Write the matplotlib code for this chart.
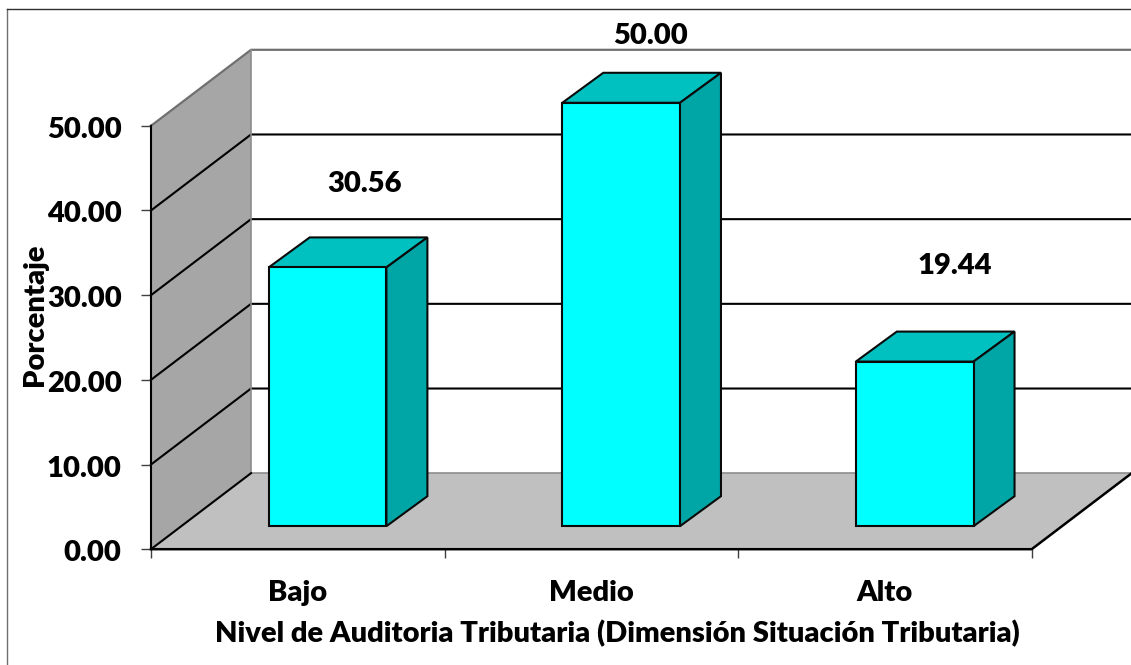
import matplotlib
matplotlib.use("Agg")
import matplotlib.pyplot as plt
from matplotlib.lines import Line2D
from matplotlib.transforms import ScaledTranslation

categorias = ['Bajo', 'Medio', 'Alto']
porcentajes = [30.56, 50.00, 19.44]
ticks_y = [0, 10, 20, 30, 40, 50]

plt.rcParams['font.family'] = ['Lato', 'DejaVu Sans']
plt.rcParams['font.weight'] = 'bold'

W, H = 1131, 665
X0, X1 = 151, 1031.7
Y0, Y50 = 549.2, 125.8

fig = plt.figure(figsize=(W / 100, H / 100), dpi=100)
ax = fig.add_axes([X0 / W, 1 - Y0 / H, (X1 - X0) / W, (Y0 - Y50) / H])
ax.set_xlim(0, 3)
ax.set_ylim(0, 50)
for s in ax.spines.values():
    s.set_visible(False)
ax.patch.set_visible(False)

# px to data units
ux = (X1 - X0) / 3
uy = (Y0 - Y50) / 50
DX, DY = 100 / ux, 76 / uy

# walls and floor
ax.fill([0, DX, DX, 0], [0, DY, 50 + DY, 50], color='#A6A6A6', lw=0, clip_on=False, zorder=1)
ax.fill([0, 3, 3 + DX, DX], [0, 0, DY, DY], color='#C0C0C0', lw=0, clip_on=False, zorder=1)

# gridlines
for v in ticks_y[1:-1]:
    ax.plot([0, DX, 3 + DX], [v, v + DY, v + DY], color='black', lw=1.5, clip_on=False, zorder=2)
ax.plot([0, DX, 3 + DX], [50, 50 + DY, 50 + DY], color='#707070', lw=1.6, clip_on=False, zorder=2)
ax.plot([DX, DX], [0 + DY, 50 + DY], color='#8C8C8C', lw=1.2, clip_on=False, zorder=2)
ax.plot([DX, 3 + DX], [DY, DY], color='#8C8C8C', lw=1.2, clip_on=False, zorder=2)
ax.plot([DX, 0, 0], [DY, 0, 50], color='black', lw=1.5, clip_on=False, zorder=3)
ax.plot([0, 3, 3 + DX], [0, 0, DY], color='black', lw=1.8, clip_on=False, zorder=3)

# 3d bars
ancho = 117.7 / ux
sx, sy = 41 / ux, 30 / uy
base = 23 / uy
centros = [i + (117.7 + 58.85) / ux for i in range(3)]
tapa = '#00C0C0'
lado = '#00A6A6'
ec = dict(edgecolor='#0A0A0A', linewidth=1.5, joinstyle='miter', clip_on=False, zorder=4)
for c, v in zip(centros, porcentajes):
    iz, de = c - ancho / 2, c + ancho / 2
    ax.fill([iz, de, de + sx, iz + sx], [base + v, base + v, base + v + sy, base + v + sy], facecolor=tapa, **ec)
    ax.fill([de, de + sx, de + sx, de], [base, base + sy, base + v + sy, base + v], facecolor=lado, **ec)
ax.bar(centros, porcentajes, width=ancho, bottom=base, color='#00FFFF', **ec)

# data labels
fs = 21
peso = 'heavy'
pos_etiquetas = [(365, 184.5), (651, 36), (955, 266.5)]
for v, (px, py) in zip(porcentajes, pos_etiquetas):
    ax.text((px - X0) / ux, (Y0 - py) / uy, f'{v:.2f}', ha='center', va='center',
            fontsize=fs, fontweight=peso, clip_on=False, zorder=5)

# axes
ax.set_yticks(ticks_y)
ax.set_yticklabels([f'{v:.2f}' for v in ticks_y], fontsize=fs, fontweight=peso)
ax.set_xticks([0, 1, 2, 3])
ax.set_xticklabels([])
ax.set_xticks([0.5, 1.5, 2.5], minor=True)
ax.set_xticklabels(categorias, minor=True, fontsize=fs, fontweight=peso)
ax.tick_params(axis='y', length=7.2, width=1, color='#404040', pad=14)
ax.tick_params(axis='x', which='major', length=6.8, width=1, color='#404040')
ax.tick_params(axis='x', which='minor', length=0, pad=22)
baja = ScaledTranslation(0, -1.5 / 100, fig.dpi_scale_trans)
for l in ax.get_yticklabels():
    l.set_transform(l.get_transform() + baja)

fig.text(617 / W, 1 - 633.5 / H, 'Nivel de Auditoria Tributaria (Dimensión Situación Tributaria)',
         ha='center', va='center', fontsize=fs, fontweight=peso)
fig.text(35 / W, 1 - 315 / H, 'Porcentaje', rotation=90, ha='center', va='center',
         fontsize=fs, fontweight=peso)

# chart area border
fig.add_artist(Line2D([6.5 / W, 6.5 / W], [0, 1 - 8.5 / H], color='#707070', lw=1))
fig.add_artist(Line2D([6.5 / W, 1], [1 - 8.5 / H, 1 - 8.5 / H], color='#303030', lw=1))

fig.savefig('out.png', dpi=100)
